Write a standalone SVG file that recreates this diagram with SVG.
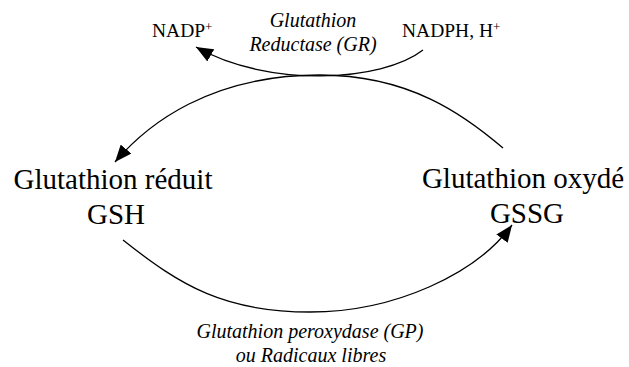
<svg xmlns="http://www.w3.org/2000/svg" width="629" height="367" viewBox="0 0 629 367">
  <style>
    text { font-family: "Liberation Serif", Tinos, "Times New Roman", Times, "DejaVu Serif", "Noto Serif", serif; fill: #000; }
    .main { font-size: 29px; text-anchor: middle; }
    .small { font-size: 19.5px; }
    .enz { font-size: 20px; font-style: italic; text-anchor: middle; }
    .sup { font-size: 13px; }
    .conn { fill: none; stroke: #000; stroke-width: 1.3; marker-end: url(#arrow); }
  </style>
  <defs>
    <marker id="arrow" markerUnits="userSpaceOnUse" viewBox="0 0 17 14" refX="17" refY="7" markerWidth="17" markerHeight="14" orient="auto">
      <path d="M0,0 L17,7 L0,14 Z" fill="#000"/>
    </marker>
  </defs>
  <rect width="629" height="367" fill="#fff"/>
  <g id="connectors">
    <path id="c-gr" class="conn" d="M423,50 C382,82 268,88 196,47"/>
    <path id="c-reduction" class="conn" d="M503,148 C465,115.5 410,75 320,75 C210,75 147.5,124 115,162"/>
    <path id="c-oxidation" class="conn" d="M123,240 C181.5,286.5 225,312 310,312 C395,312 476.6,273.6 512,225"/>
  </g>
  <g id="nadp">
    <text class="small" x="152" y="37" font-family="Liberation Serif, DejaVu Serif, serif">NADP<tspan class="sup" dy="-6">+</tspan></text>
  </g>
  <g id="nadph">
    <text class="small" x="402" y="37" font-family="Liberation Serif, DejaVu Serif, serif">NADPH, H<tspan class="sup" dy="-6">+</tspan></text>
  </g>
  <g id="gr-label">
    <text class="enz" x="313" y="27">Glutathion</text>
    <text class="enz" x="313" y="51">Reductase (GR)</text>
  </g>
  <g id="gsh">
    <text class="main" x="113" y="189">Glutathion réduit</text>
    <text class="main" x="116" y="224">GSH</text>
  </g>
  <g id="gssg">
    <text class="main" x="523" y="188">Glutathion oxydé</text>
    <text class="main" x="527" y="223">GSSG</text>
  </g>
  <g id="gp-label">
    <text class="enz" x="310" y="338">Glutathion peroxydase (GP)</text>
    <text class="enz" x="311" y="362">ou Radicaux libres</text>
  </g>
</svg>
